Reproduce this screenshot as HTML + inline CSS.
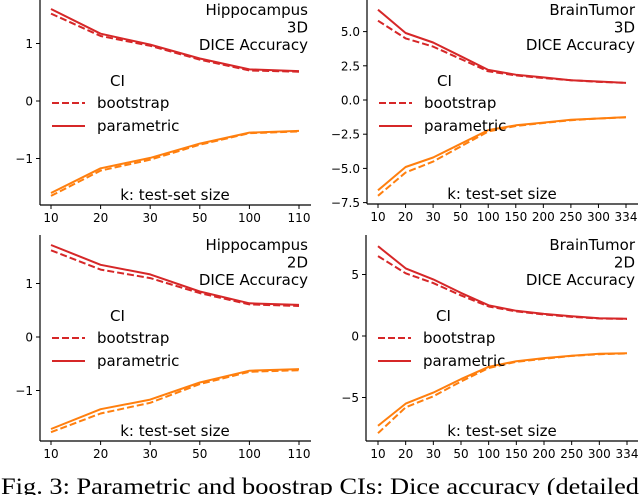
<!DOCTYPE html>
<html><head><meta charset="utf-8"><style>
html,body{margin:0;padding:0;background:#fff;width:640px;height:495px;overflow:hidden}
svg{display:block;font-family:"DejaVu Sans","Liberation Sans",sans-serif}
</style></head><body>
<svg id="fig" width="640" height="495" viewBox="0 0 640 495">
<text x="1" y="494" font-family="Liberation Serif, serif" font-size="23" textLength="638" lengthAdjust="spacingAndGlyphs">Fig. 3: Parametric and boostrap CIs: Dice accuracy (detailed</text>
</svg>
<script>
const catsHippo = ["10","20","30","50","100","110"];
const catsBrain = ["10","20","30","50","100","150","200","250","300","334"];
// Top-left: Hippocampus 3D
const tlParamUp = [1.6,1.17,0.98,0.74,0.55,0.52];
const tlBootUp = [1.52,1.13,0.96,0.72,0.53,0.51];
const tlParamLo = [-1.6,-1.17,-0.99,-0.74,-0.55,-0.52];
const tlBootLo = [-1.65,-1.21,-1.02,-0.76,-0.56,-0.53];
const tlTicks = [-1,0,1];
const tlTickLabels = ["\u22121","0","1"];
// Top-right: BrainTumor 3D
const trParamUp = [6.6,4.9,4.2,3.2,2.2,1.85,1.65,1.45,1.35,1.25];
const trBootUp = [5.8,4.5,3.9,3.0,2.1,1.8,1.6,1.45,1.32,1.25];
const trParamLo = [-6.6,-4.9,-4.2,-3.2,-2.2,-1.85,-1.65,-1.45,-1.35,-1.25];
const trBootLo = [-7.0,-5.3,-4.5,-3.4,-2.3,-1.9,-1.68,-1.48,-1.35,-1.27];
const trTicks = [-7.5,-5,-2.5,0,2.5,5];
const trTickLabels = ["\u22127.5","\u22125.0","\u22122.5","0.0","2.5","5.0"];
// Bottom-left: Hippocampus 2D
const blParamUp = [1.72,1.35,1.17,0.85,0.63,0.6];
const blBootUp = [1.62,1.26,1.1,0.82,0.61,0.58];
const blParamLo = [-1.72,-1.35,-1.17,-0.85,-0.63,-0.6];
const blBootLo = [-1.78,-1.43,-1.23,-0.88,-0.65,-0.62];
const blTicks = [-1,0,1];
const blTickLabels = ["\u22121","0","1"];
// Bottom-right: BrainTumor 2D
const brParamUp = [7.3,5.5,4.6,3.5,2.5,2.05,1.8,1.6,1.45,1.4];
const brBootUp = [6.5,5.1,4.3,3.3,2.4,2.0,1.75,1.55,1.42,1.38];
const brParamLo = [-7.3,-5.5,-4.6,-3.5,-2.5,-2.05,-1.8,-1.6,-1.45,-1.4];
const brBootLo = [-7.9,-5.8,-4.9,-3.7,-2.6,-2.1,-1.85,-1.62,-1.48,-1.42];
const brTicks = [-5,0,5];
const brTickLabels = ["\u22125","0","5"];

const NS="http://www.w3.org/2000/svg";
const svg=document.getElementById('fig');
function mk(tag,attrs,parent){const e=document.createElementNS(NS,tag);for(const k in attrs)e.setAttribute(k,attrs[k]);(parent||svg).appendChild(e);return e;}

function panel(p){
  const g=mk('g',{});
  
  
  const n=p.cats.length;
  const xs=i=>p.x0+(p.x1-p.x0)*i/(n-1);
  const ys=v=>p.yZero-v*p.ppu;
  const sl=mk('line',{x1:p.left,y1:p.top,x2:p.left,y2:p.bottom,stroke:'#000','stroke-width':1.2},g);
  
  
  const sb=mk('line',{x1:p.left,y1:p.bottom,x2:p.right,y2:p.bottom,stroke:'#000','stroke-width':1.2},g);
  
  
  p.cats.forEach((c,i)=>{
    mk('line',{x1:xs(i),y1:p.bottom,x2:xs(i),y2:p.bottom+4,stroke:'#000','stroke-width':1},g);
    const t=mk('text',{x:xs(i),y:p.bottom+17,'font-size':12,'text-anchor':'middle'},g);
    t.textContent=c;
    
    
  });
  p.ticks.forEach((v,i)=>{
    const y=ys(v);
    mk('line',{x1:p.left-4,y1:y,x2:p.left,y2:y,stroke:'#000','stroke-width':1},g);
    const t=mk('text',{x:p.left-7,y:y+4.5,'font-size':12,'text-anchor':'end'},g);
    t.textContent=p.tickLabels[i];
    
    
  });
  const series=[[p.bu,'#d62728',true,'bootstrap-upper'],[p.pu,'#d62728',false,'parametric-upper'],[p.bl,'#ff7f0e',true,'bootstrap-lower'],[p.pl,'#ff7f0e',false,'parametric-lower']];
  series.forEach(s=>{
    const pts=s[0].map((v,i)=>xs(i).toFixed(1)+','+ys(v).toFixed(1)).join(' ');
    const a={points:pts,fill:'none',stroke:s[1],'stroke-width':2,'stroke-linejoin':'round'};
    if(s[2])a['stroke-dasharray']='7,3';
    const l=mk('polyline',a,g);
    
    
  });
  const lines=[p.title,p.dim,'DICE Accuracy'];
  lines.forEach((s,i)=>{
    const t=mk('text',{x:p.right-3,y:p.annY+i*17.5,'font-size':15,'text-anchor':'end'},g);
    t.textContent=s;
    
    
  });
  const lg=mk('g',{},g);
  
  
  const ci=mk('text',{x:p.left+70,y:p.legY,'font-size':15},lg);ci.textContent='CI';
  
  
  mk('line',{x1:p.left+12,y1:p.legY+17,x2:p.left+45,y2:p.legY+17,stroke:'#d62728','stroke-width':2,'stroke-dasharray':'7,3'},lg);
  const b=mk('text',{x:p.left+57,y:p.legY+22,'font-size':15},lg);b.textContent='bootstrap';
  
  
  mk('line',{x1:p.left+12,y1:p.legY+40,x2:p.left+45,y2:p.legY+40,stroke:'#d62728','stroke-width':2},lg);
  const pa=mk('text',{x:p.left+57,y:p.legY+45,'font-size':15},lg);pa.textContent='parametric';
  
  
  const k=mk('text',{x:p.kx,y:p.bottom-5,'font-size':15,'text-anchor':'middle'},g);k.textContent='k: test-set size';
  
  
}
panel({name:'panel-hippocampus-3d',cats:catsHippo,left:40,right:311,top:-5,bottom:205,x0:51,x1:299,yZero:101,ppu:57.5,ticks:tlTicks,tickLabels:tlTickLabels,pu:tlParamUp,bu:tlBootUp,pl:tlParamLo,bl:tlBootLo,title:'Hippocampus',dim:'3D',annY:15,legY:86,kx:175});
panel({name:'panel-braintumor-3d',cats:catsBrain,left:367,right:638,top:-5,bottom:204,x0:378,x1:626,yZero:100,ppu:13.68,ticks:trTicks,tickLabels:trTickLabels,pu:trParamUp,bu:trBootUp,pl:trParamLo,bl:trBootLo,title:'BrainTumor',dim:'3D',annY:15,legY:86,kx:502});
panel({name:'panel-hippocampus-2d',cats:catsHippo,left:40,right:311,top:235,bottom:441,x0:51,x1:299,yZero:337,ppu:53.5,ticks:blTicks,tickLabels:blTickLabels,pu:blParamUp,bu:blBootUp,pl:blParamLo,bl:blBootLo,title:'Hippocampus',dim:'2D',annY:250,legY:321,kx:175});
panel({name:'panel-braintumor-2d',cats:catsBrain,left:366,right:638,top:235,bottom:441,x0:378,x1:627,yZero:336,ppu:12.3,ticks:brTicks,tickLabels:brTickLabels,pu:brParamUp,bu:brBootUp,pl:brParamLo,bl:brBootLo,title:'BrainTumor',dim:'2D',annY:250,legY:321,kx:502});
</script>
</body></html>
